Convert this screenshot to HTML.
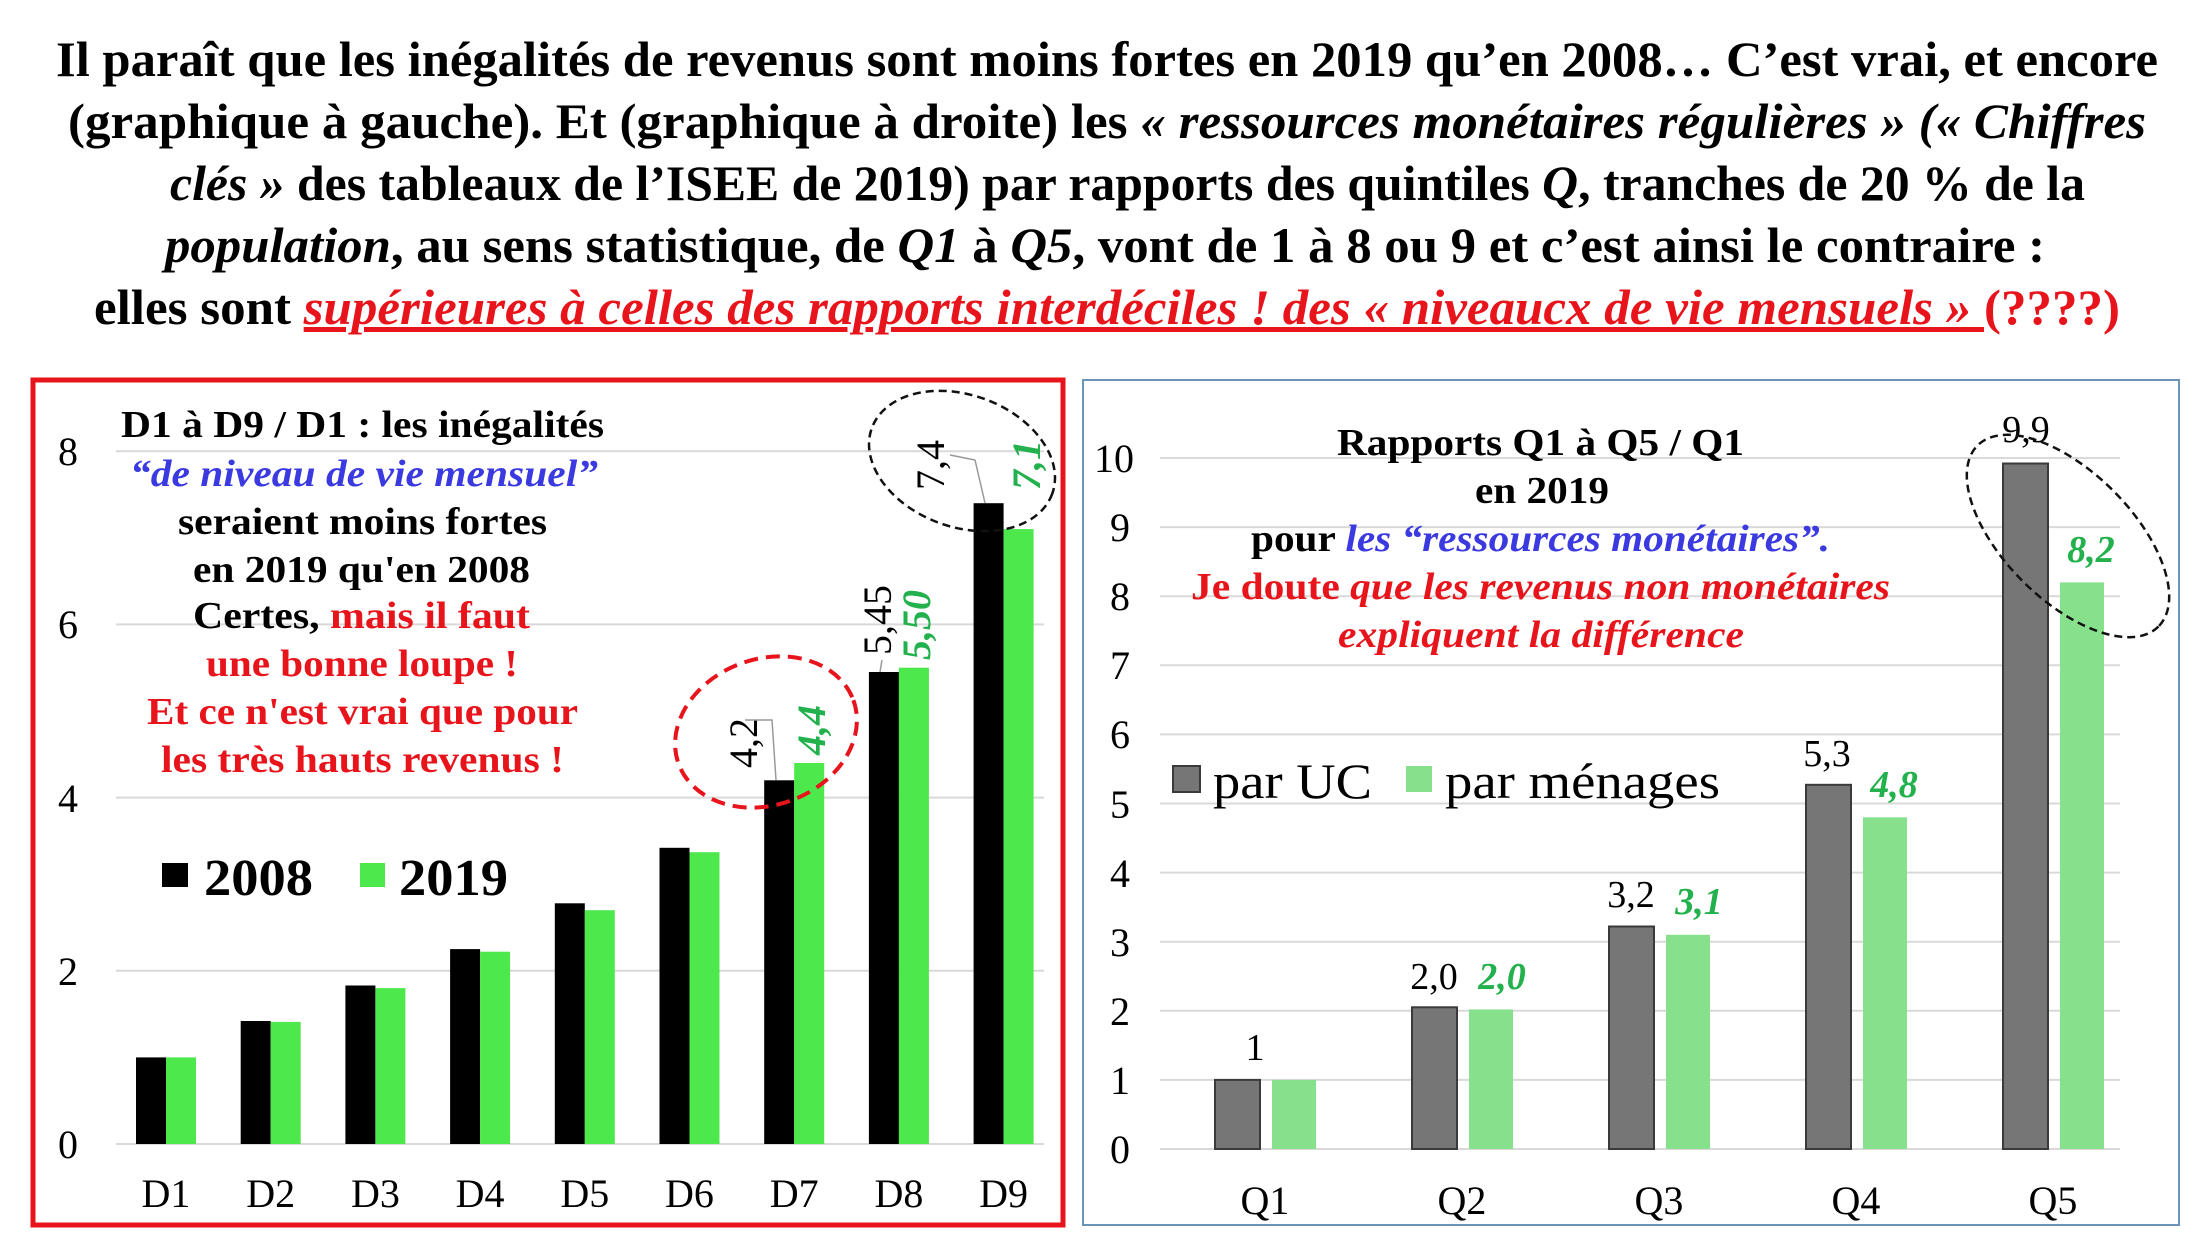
<!DOCTYPE html>
<html><head><meta charset="utf-8"><style>
html,body{margin:0;padding:0;background:#fff;}
svg{display:block;}
text{font-family:"Liberation Serif",serif;}
</style></head><body>
<svg width="2200" height="1238" viewBox="0 0 2200 1238" xmlns="http://www.w3.org/2000/svg">
<rect width="2200" height="1238" fill="#fff"/>
<g font-weight="bold" font-size="50" fill="#000">
<text x="56" y="76" textLength="2102" lengthAdjust="spacingAndGlyphs">Il paraît que les inégalités de revenus sont moins fortes en 2019 qu’en 2008… C’est vrai, et encore</text>
<text x="68" y="138" textLength="2078" lengthAdjust="spacingAndGlyphs">(graphique à gauche). Et  (graphique à droite) les <tspan font-style="italic">« ressources monétaires régulières » (« Chiffres</tspan></text>
<text x="170" y="200" textLength="1915" lengthAdjust="spacingAndGlyphs"><tspan font-style="italic">clés »</tspan> des tableaux de l’ISEE de 2019) par rapports des quintiles <tspan font-style="italic">Q</tspan>, tranches de 20 % de la</text>
<text x="165" y="262" textLength="1880" lengthAdjust="spacingAndGlyphs"><tspan font-style="italic">population</tspan>, au sens statistique, de <tspan font-style="italic">Q1</tspan> à <tspan font-style="italic">Q5</tspan>, vont de 1 à 8 ou 9 et c’est ainsi le contraire :</text>
<text x="94" y="324" textLength="2026" lengthAdjust="spacingAndGlyphs">elles  sont <tspan fill="#e8141c" font-style="italic" text-decoration="underline">supérieures à celles des rapports interdéciles ! des « niveaucx de vie mensuels » </tspan><tspan fill="#e8141c">(????)</tspan></text>
</g>

<rect x="33" y="380" width="1030" height="845" fill="none" stroke="#e8141c" stroke-width="5"/>
<g stroke="#d9d9d9" stroke-width="2">
<line x1="116" y1="1144" x2="1044" y2="1144"/><line x1="116" y1="970.8" x2="1044" y2="970.8"/>
<line x1="116" y1="797.6" x2="1044" y2="797.6"/><line x1="116" y1="624.4" x2="1044" y2="624.4"/>
<line x1="116" y1="451.2" x2="1044" y2="451.2"/>
</g>
<g font-size="40" fill="#000" text-anchor="middle">
<text x="68" y="1158">0</text><text x="68" y="985">2</text><text x="68" y="812">4</text><text x="68" y="638">6</text><text x="68" y="465">8</text>
</g>
<g fill="#000">
<rect x="136" y="1057.4" width="30" height="86.6"/>
<rect x="240.7" y="1021" width="30" height="123"/>
<rect x="345.4" y="985.5" width="30" height="158.5"/>
<rect x="450.1" y="949.1" width="30" height="194.9"/>
<rect x="554.8" y="903.3" width="30" height="240.7"/>
<rect x="659.5" y="847.8" width="30" height="296.2"/>
<rect x="764.2" y="780.3" width="30" height="363.7"/>
<rect x="868.9" y="672" width="30" height="472"/>
<rect x="973.6" y="503.2" width="30" height="640.8"/>
</g>
<g fill="#4ce84c">
<rect x="166" y="1057.4" width="30" height="86.6"/>
<rect x="270.7" y="1021.9" width="30" height="122.1"/>
<rect x="375.4" y="988.1" width="30" height="155.9"/>
<rect x="480.1" y="951.7" width="30" height="192.3"/>
<rect x="584.8" y="910.2" width="30" height="233.8"/>
<rect x="689.5" y="852.2" width="30" height="291.8"/>
<rect x="794.2" y="763" width="30" height="381"/>
<rect x="898.9" y="667.7" width="30" height="476.3"/>
<rect x="1003.6" y="529.1" width="30" height="614.9"/>
</g>
<g font-size="40" fill="#000" text-anchor="middle">
<text x="166" y="1207">D1</text><text x="270.7" y="1207">D2</text><text x="375.4" y="1207">D3</text>
<text x="480.1" y="1207">D4</text><text x="584.8" y="1207">D5</text><text x="689.5" y="1207">D6</text>
<text x="794.2" y="1207">D7</text><text x="898.9" y="1207">D8</text><text x="1003.6" y="1207">D9</text>
</g>
<g font-weight="bold" font-size="38" text-anchor="start">
<text x="121" y="437" textLength="483" lengthAdjust="spacingAndGlyphs" fill="#000">D1 à D9 / D1 : les inégalités</text>
<text x="130" y="486" textLength="468" lengthAdjust="spacingAndGlyphs" fill="#3a3ae0" font-style="italic">“de niveau de vie mensuel”</text>
<text x="178" y="534" textLength="369" lengthAdjust="spacingAndGlyphs" fill="#000">seraient moins fortes</text>
<text x="193" y="582" textLength="337" lengthAdjust="spacingAndGlyphs" fill="#000">en 2019 qu'en 2008</text>
<text x="193" y="628" textLength="337" lengthAdjust="spacingAndGlyphs" fill="#000">Certes, <tspan fill="#e8141c">mais il faut</tspan></text>
<text x="206" y="676" textLength="312" lengthAdjust="spacingAndGlyphs" fill="#e8141c">une bonne loupe !</text>
<text x="147" y="724" textLength="431" lengthAdjust="spacingAndGlyphs" fill="#e8141c">Et ce n'est vrai que pour</text>
<text x="161" y="772" textLength="403" lengthAdjust="spacingAndGlyphs" fill="#e8141c">les très hauts revenus !</text>
</g>
<rect x="162" y="863" width="26" height="24" fill="#000"/>
<text x="204" y="895" font-size="52" font-weight="bold" textLength="109" lengthAdjust="spacingAndGlyphs">2008</text>
<rect x="360" y="863" width="25" height="24" fill="#4ce84c"/>
<text x="399" y="895" font-size="52" font-weight="bold" textLength="109" lengthAdjust="spacingAndGlyphs">2019</text>
<g font-size="40">
<text transform="translate(757,768) rotate(-90)">4,2</text>
<text transform="translate(825,755) rotate(-90)" fill="#22b14c" font-weight="bold" font-style="italic">4,4</text>
<text transform="translate(891,655) rotate(-90)">5,45</text>
<text transform="translate(930,660) rotate(-90)" fill="#22b14c" font-weight="bold" font-style="italic">5,50</text>
<text transform="translate(944,490) rotate(-90)">7,4</text>
<text transform="translate(1040,490) rotate(-90)" fill="#22b14c" font-weight="bold" font-style="italic">7,1</text>
</g>
<g stroke="#999" stroke-width="1.5" fill="none">
<polyline points="745,720 772,720 776,780"/>
<polyline points="882,660 880,672"/>
<polyline points="950,455 975,460 985,503"/>
</g>
<ellipse cx="766" cy="732" rx="93" ry="73" transform="rotate(-20 766 732)" fill="none" stroke="#e8141c" stroke-width="4" stroke-dasharray="14 8"/>
<ellipse cx="962" cy="461" rx="96" ry="66" transform="rotate(20 962 461)" fill="none" stroke="#111" stroke-width="2.5" stroke-dasharray="8 5"/>

<rect x="1083" y="380" width="1096" height="845" fill="none" stroke="#6b94b8" stroke-width="2"/>
<g stroke="#d9d9d9" stroke-width="2">
<line x1="1160" y1="1149" x2="2120" y2="1149"/><line x1="1160" y1="1079.9" x2="2120" y2="1079.9"/>
<line x1="1160" y1="1010.8" x2="2120" y2="1010.8"/><line x1="1160" y1="941.7" x2="2120" y2="941.7"/>
<line x1="1160" y1="872.6" x2="2120" y2="872.6"/><line x1="1160" y1="803.5" x2="2120" y2="803.5"/>
<line x1="1160" y1="734.4" x2="2120" y2="734.4"/><line x1="1160" y1="665.3" x2="2120" y2="665.3"/>
<line x1="1160" y1="596.2" x2="2120" y2="596.2"/><line x1="1160" y1="527.1" x2="2120" y2="527.1"/>
<line x1="1160" y1="458" x2="2120" y2="458"/>
</g>
<g font-size="40" fill="#000" text-anchor="end">
<text x="1130" y="1163">0</text><text x="1130" y="1094">1</text><text x="1130" y="1025">2</text>
<text x="1130" y="956">3</text><text x="1130" y="887">4</text><text x="1130" y="818">5</text>
<text x="1130" y="748">6</text><text x="1130" y="679">7</text><text x="1130" y="610">8</text>
<text x="1130" y="541">9</text><text x="1134" y="472">10</text>
</g>
<g fill="#767676" stroke="#3a3a3a" stroke-width="2">
<rect x="1215" y="1079.9" width="45" height="69.1"/>
<rect x="1412" y="1007.3" width="45" height="141.7"/>
<rect x="1609" y="926.5" width="45" height="222.5"/>
<rect x="1806" y="784.8" width="45" height="364.2"/>
<rect x="2003" y="463.5" width="45" height="685.5"/>
</g>
<g fill="#86e08c">
<rect x="1272" y="1079.9" width="44" height="69.1"/>
<rect x="1469" y="1009.4" width="44" height="139.6"/>
<rect x="1666" y="934.8" width="44" height="214.2"/>
<rect x="1863" y="817.3" width="44" height="331.7"/>
<rect x="2060" y="582.4" width="44" height="566.6"/>
</g>
<g font-size="40" fill="#000" text-anchor="middle">
<text x="1265" y="1214">Q1</text><text x="1462" y="1214">Q2</text><text x="1659" y="1214">Q3</text>
<text x="1856" y="1214">Q4</text><text x="2053" y="1214">Q5</text>
</g>
<g font-size="38" text-anchor="middle">
<text x="1255" y="1060">1</text>
<text x="1434" y="989">2,0</text>
<text x="1502" y="989" fill="#22b14c" font-weight="bold" font-style="italic">2,0</text>
<text x="1631" y="907">3,2</text>
<text x="1699" y="914" fill="#22b14c" font-weight="bold" font-style="italic">3,1</text>
<text x="1827" y="766">5,3</text>
<text x="1894" y="797" fill="#22b14c" font-weight="bold" font-style="italic">4,8</text>
<text x="2026" y="442">9,9</text>
<text x="2091" y="562" fill="#22b14c" font-weight="bold" font-style="italic">8,2</text>
</g>
<g font-weight="bold" font-size="38">
<text x="1337" y="455" textLength="407" lengthAdjust="spacingAndGlyphs" fill="#000">Rapports Q1 à Q5 / Q1</text>
<text x="1475" y="503" textLength="134" lengthAdjust="spacingAndGlyphs" fill="#000">en 2019</text>
<text x="1251" y="551" textLength="579" lengthAdjust="spacingAndGlyphs" fill="#000">pour <tspan fill="#3a3ae0" font-style="italic">les “ressources monétaires”.</tspan></text>
<text x="1191" y="599" textLength="699" lengthAdjust="spacingAndGlyphs" fill="#e8141c">Je doute <tspan font-style="italic">que les revenus non monétaires</tspan></text>
<text x="1338" y="647" textLength="406" lengthAdjust="spacingAndGlyphs" fill="#e8141c" font-style="italic">expliquent la différence</text>
</g>
<rect x="1173" y="766" width="27" height="26" fill="#767676" stroke="#3a3a3a" stroke-width="2"/>
<text x="1213" y="798" font-size="50" textLength="159" lengthAdjust="spacingAndGlyphs">par UC</text>
<rect x="1406" y="766" width="26" height="26" fill="#86e08c"/>
<text x="1445" y="798" font-size="50" textLength="275" lengthAdjust="spacingAndGlyphs">par ménages</text>
<ellipse cx="2068" cy="536" rx="128" ry="64" transform="rotate(45 2068 536)" fill="none" stroke="#111" stroke-width="2.5" stroke-dasharray="8 5"/>
</svg>
</body></html>
